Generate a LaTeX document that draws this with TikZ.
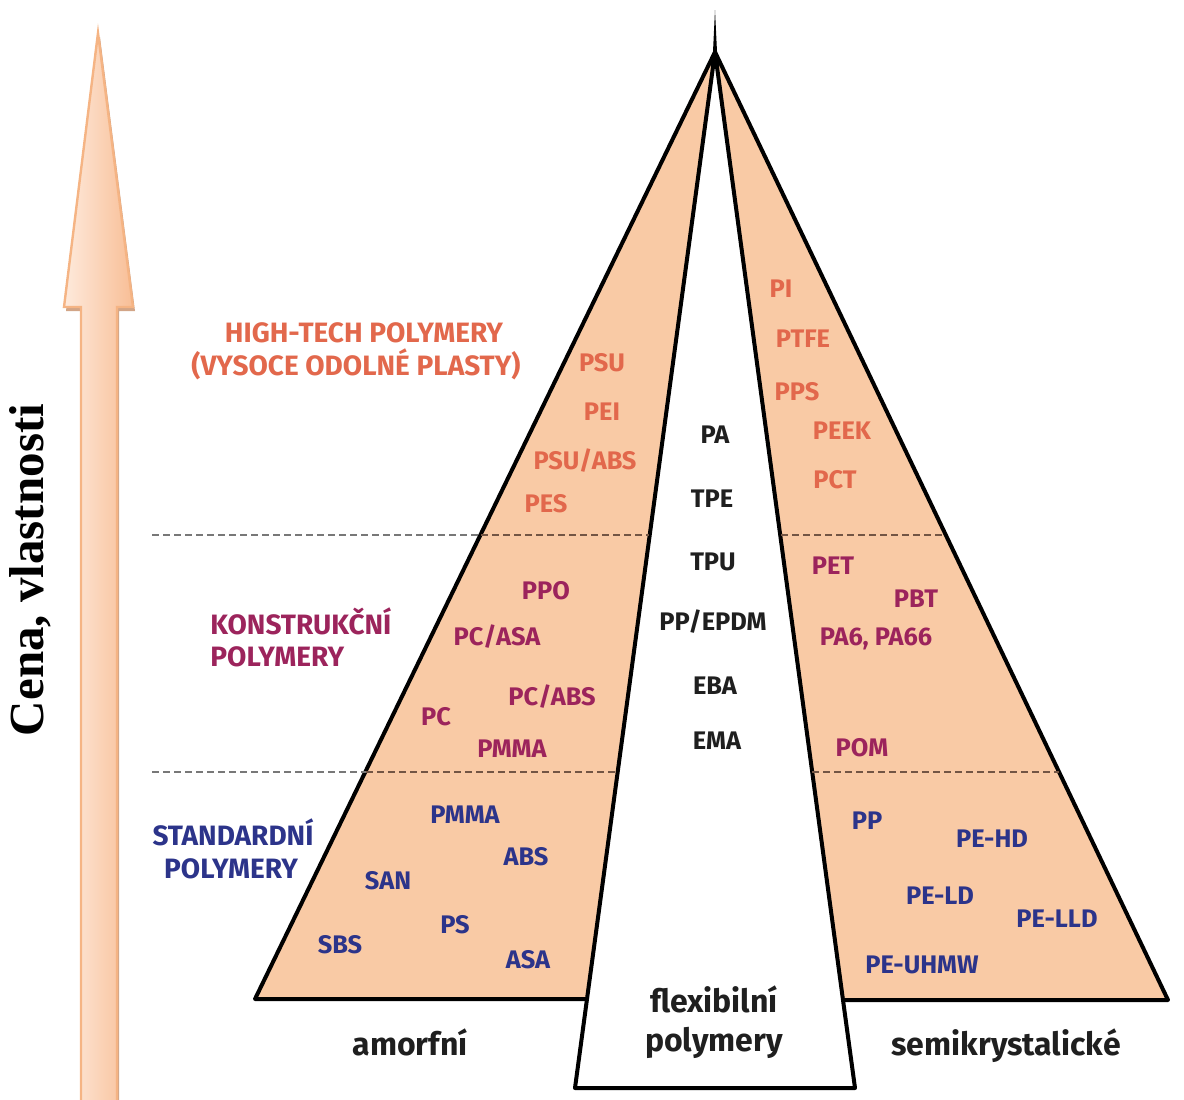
\documentclass[tikz,border=0pt]{standalone}
\usepackage{fontspec}
\setmainfont{Fira Sans}
\newfontfamily\timesfont{Liberation Serif}
\definecolor{peach}{RGB}{249,202,165}
\definecolor{hitech}{RGB}{226,104,76}
\definecolor{konstr}{RGB}{156,36,92}
\definecolor{stdb}{RGB}{44,52,138}
\definecolor{dashin}{RGB}{115,85,68}
\definecolor{dashout}{RGB}{120,120,120}
\definecolor{arrL}{RGB}{254,234,220}
\definecolor{arrR}{RGB}{248,190,150}
\definecolor{arrline}{RGB}{245,180,132}
\definecolor{arrshadow}{RGB}{210,165,135}
\tikzset{
  lbl/.style={font=\bfseries\fontsize{12.7}{15}\selectfont, inner sep=0pt, text height=8.76pt, text depth=0pt},
  cat/.style={font=\bfseries\fontsize{14}{16}\selectfont, inner sep=0pt, text height=9.66pt, text depth=0pt},
  ht/.style={lbl, text=hitech},
  ko/.style={lbl, text=konstr},
  st/.style={lbl, text=stdb},
  ce/.style={lbl, text=black!88},
  bottomlbl/.style={font=\bfseries\fontsize{16}{18}\selectfont, inner sep=0pt, anchor=base, text=black!88},
  outline/.style={line width=2pt, line join=round},
  dashout/.style={dashed, dash pattern=on 3.5pt off 2pt, line width=1pt, draw=dashout},
  dashin/.style={dashed, dash pattern=on 3.5pt off 2pt, line width=1pt, draw=dashin}
}
\begin{document}
\begin{tikzpicture}[x=0.5pt,y=-0.5pt]
\useasboundingbox (0,0) rectangle (1184,1099);
% key points
\coordinate (apex) at (715,52);
\coordinate (tip) at (715,10);
\coordinate (LB) at (255,999);
\coordinate (LI) at (587,999);
\coordinate (RI) at (843,1000);
\coordinate (RB) at (1168,1000);
\coordinate (CBL) at (575,1088);
\coordinate (CBR) at (855,1088);

% arrow with shadow
\fill[arrshadow] (100,37) -- (135,311) -- (119,311) -- (119,1110) -- (83,1110) -- (83,311) -- (66,311) -- cycle;
\path[draw=arrline, line width=1.2pt, line join=miter, left color=arrL, right color=arrR]
  (98,33) -- (133,307) -- (117,307) -- (117,1110) -- (81,1110) -- (81,307) -- (64,307) -- cycle;
\node[rotate=90, font=\timesfont\bfseries\fontsize{24.5}{28}\selectfont, inner sep=0pt] (axis) at (30,570) {Cena, vlastnosti};

% triangles
\filldraw[fill=peach, outline] (apex) -- (LB) -- (LI) -- cycle;
\filldraw[fill=peach, outline] (apex) -- (RI) -- (RB) -- cycle;
\draw[outline] (LI) -- (CBL) -- (CBR) -- (RI);
\fill (tip) -- (712.5,62) -- (717.5,62) -- cycle;

% dashed level lines
\draw[dashout] (152,535) -- (481,535);
\draw[dashin] (481,535) -- (649,535);
\draw[dashin] (781,535) -- (945,535);
\draw[dashout] (152,772) -- (366,772);
\draw[dashin] (366,772) -- (617,772);
\draw[dashin] (812,772) -- (1059,772);

% group labels
\node[cat, text=hitech] (ht1) at (364,333) {HIGH-TECH POLYMERY};
\node[cat, text=hitech] (ht2) at (356,366) {(VYSOCE ODOLNÉ PLASTY)};
\node[cat, text=konstr, anchor=west] (ko1) at (210,625) {KONSTRUKČNÍ};
\node[cat, text=konstr, anchor=west] (ko2) at (210,657) {POLYMERY};
\node[cat, text=stdb] (st1) at (233,836) {STANDARDNÍ};
\node[cat, text=stdb] (st2) at (231,869) {POLYMERY};

% high-tech left
\node[ht] (psu) at (602,363) {PSU};
\node[ht] (pei) at (602,412) {PEI};
\node[ht] (psuabs) at (585,461) {PSU/ABS};
\node[ht] (pes) at (546,504) {PES};
% high-tech right
\node[ht] (pi) at (781,289) {PI};
\node[ht] (ptfe) at (803,339) {PTFE};
\node[ht] (pps) at (797,392) {PPS};
\node[ht] (peek) at (842,431) {PEEK};
\node[ht] (pct) at (835,480) {PCT};

% center
\node[ce] (pa) at (715,435) {PA};
\node[ce] (tpe) at (712,499) {TPE};
\node[ce] (tpu) at (713,562) {TPU};
\node[ce] (ppepdm) at (713,622) {PP/EPDM};
\node[ce] (eba) at (715,686) {EBA};
\node[ce] (ema) at (717,741) {EMA};

% konstrukcni left
\node[ko] (ppo) at (546,591) {PPO};
\node[ko] (pcasa) at (497,637) {PC/ASA};
\node[ko] (pcabs) at (552,697) {PC/ABS};
\node[ko] (pc) at (436,717) {PC};
\node[ko] (pmma1) at (512,749) {PMMA};
% konstrukcni right
\node[ko] (pet) at (833,566) {PET};
\node[ko] (pbt) at (916,599) {PBT};
\node[ko] (pa6) at (876,637) {PA6, PA66};
\node[ko] (pom) at (862,748) {POM};

% standard left
\node[st] (pmma2) at (465,815) {PMMA};
\node[st] (abs) at (526,857) {ABS};
\node[st] (san) at (388,881) {SAN};
\node[st] (ps) at (455,925) {PS};
\node[st] (sbs) at (340,945) {SBS};
\node[st] (asa) at (528,960) {ASA};
% standard right
\node[st] (pp) at (867,821) {PP};
\node[st] (pehd) at (992,839) {PE-HD};
\node[st] (peld) at (940,896) {PE-LD};
\node[st] (pelld) at (1057,919) {PE-LLD};
\node[st] (peuhmw) at (922,965) {PE-UHMW};

% bottom labels
\node[bottomlbl] (amorf) at (410,1055) {amorfní};
\node[bottomlbl] (flex1) at (714,1012) {flexibilní};
\node[bottomlbl] (flex2) at (714,1051) {polymery};
\node[bottomlbl] (semi) at (1006,1055) {semikrystalické};
\end{tikzpicture}
\end{document}
